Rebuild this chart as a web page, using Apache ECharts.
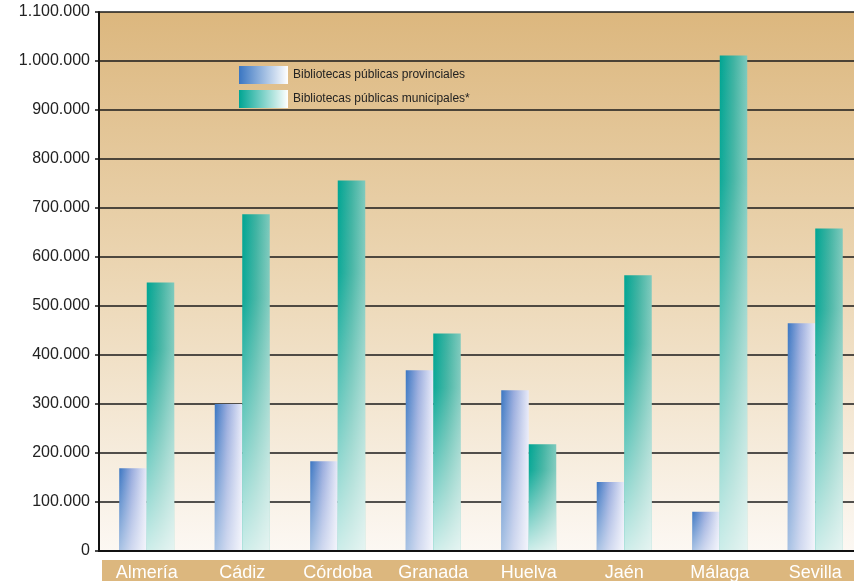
<!DOCTYPE html>
<html>
<head>
<meta charset="utf-8">
<script src="https://cdn.jsdelivr.net/npm/echarts@6/dist/echarts.min.js"></script>
<style>
html,body{margin:0;padding:0;background:#fff;}
#chart{width:854px;height:581px;}
</style>
</head>
<body>
<div id="chart"></div>
<script>
var categories = ['Almería','Cádiz','Córdoba','Granada','Huelva','Jaén','Málaga','Sevilla'];
var provinciales = [169000, 300000, 183000, 369000, 328000, 141000, 80000, 465000];
var municipales = [548000, 687000, 756000, 444000, 218000, 563000, 1011000, 658000];
var seriesNames = ['Bibliotecas públicas provinciales', 'Bibliotecas públicas municipales*'];
var yTicks = {min: 0, max: 1100000, interval: 100000};

var G = echarts.graphic;
var BW = 27.5;
var provGrad = new G.LinearGradient(0,0,1,0,[
  {offset:0,color:'#3a76c2'},{offset:0.45,color:'#98abdd'},{offset:1,color:'#e8eaf8'}]);
var muniGrad = new G.LinearGradient(0,0,1,0,[
  {offset:0,color:'#00a593'},{offset:0.5,color:'#3fb3a2'},{offset:1,color:'#7fcabd'}]);
var provOver = new G.LinearGradient(0,0,0,1,[
  {offset:0,color:'rgba(255,255,255,0)'},{offset:1,color:'rgba(255,255,255,0.55)'}]);
var muniOver = new G.LinearGradient(0,0,0,1,[
  {offset:0,color:'rgba(255,255,255,0)'},{offset:0.25,color:'rgba(255,255,255,0.05)'},{offset:1,color:'rgba(255,255,255,0.8)'}]);
var provLegend = new G.LinearGradient(0,0,1,0,[
  {offset:0,color:'#3a76c2'},{offset:1,color:'#ffffff'}]);
var muniLegend = new G.LinearGradient(0,0,1,0,[
  {offset:0,color:'#00a593'},{offset:1,color:'#ffffff'}]);

function fmt(v){
  return String(v).replace(/\B(?=(\d{3})+(?!\d))/g, '.');
}

function makeRender(left, base, over){
  return function(params, api){
    var cat = api.value(0), v = api.value(1);
    var top = api.coord([cat, v]);
    var bot = api.coord([cat, 0]);
    var x = left ? top[0] - BW : top[0];
    var shape = {x: x, y: top[1], width: BW, height: bot[1] - top[1] - 1};
    return {type:'group', children:[
      {type:'rect', shape: shape, style:{fill: base}},
      {type:'rect', shape: shape, style:{fill: over}}
    ]};
  };
}

var chart = echarts.init(document.getElementById('chart'), null, {renderer:'canvas'});
chart.setOption({
  animation: false,
  backgroundColor: '#ffffff',
  textStyle: {fontFamily: 'Liberation Sans'},
  grid: {
    left: 99, top: 12, width: 764, height: 539,
    outerBoundsMode: 'none', containLabel: false,
    show: true, borderWidth: 0,
    backgroundColor: new G.LinearGradient(0,0,0,1,[
      {offset:0,color:'#dcb77e'},{offset:0.5,color:'#ecd7b5'},{offset:1,color:'#fcf8f3'}])
  },
  legend: {
    orient: 'vertical', left: 239, top: 66, itemGap: 6, padding: 0,
    itemWidth: 49, itemHeight: 18, icon: 'rect',
    textStyle: {fontSize: 12, color: '#222', fontFamily: 'Liberation Sans'},
    data: [
      {name: seriesNames[0], itemStyle: {color: provLegend}},
      {name: seriesNames[1], itemStyle: {color: muniLegend}}
    ]
  },
  graphic: [{
    type: 'rect', z: -10, silent: true,
    shape: {x: 102, y: 560, width: 760, height: 30},
    style: {fill: '#dcb77e'}
  }],
  xAxis: {
    type: 'category', data: categories,
    axisLine: {lineStyle: {color: '#111', width: 2}},
    axisTick: {show: false},
    axisLabel: {color: '#ffffff', fontSize: 18, margin: 13, fontFamily: 'Liberation Sans'},
    splitLine: {show: false}
  },
  yAxis: {
    type: 'value', min: yTicks.min, max: yTicks.max, interval: yTicks.interval,
    axisLine: {show: true, lineStyle: {color: '#111', width: 2}},
    axisTick: {show: true, length: 4, lineStyle: {color: '#111', width: 1.5}},
    axisLabel: {color: '#222', fontSize: 16, margin: 9, fontFamily: 'Liberation Sans', formatter: fmt},
    splitLine: {show: true, lineStyle: {color: '#1a1a1a', width: 1.5}}
  },
  series: [
    {
      name: seriesNames[0], type: 'custom',
      itemStyle: {color: provLegend},
      encode: {x: 0, y: 1},
      data: provinciales.map(function(v, i){ return [i, v]; }),
      renderItem: makeRender(true, provGrad, provOver)
    },
    {
      name: seriesNames[1], type: 'custom',
      itemStyle: {color: muniLegend},
      encode: {x: 0, y: 1},
      data: municipales.map(function(v, i){ return [i, v]; }),
      renderItem: makeRender(false, muniGrad, muniOver)
    }
  ]
});
</script>
</body>
</html>
